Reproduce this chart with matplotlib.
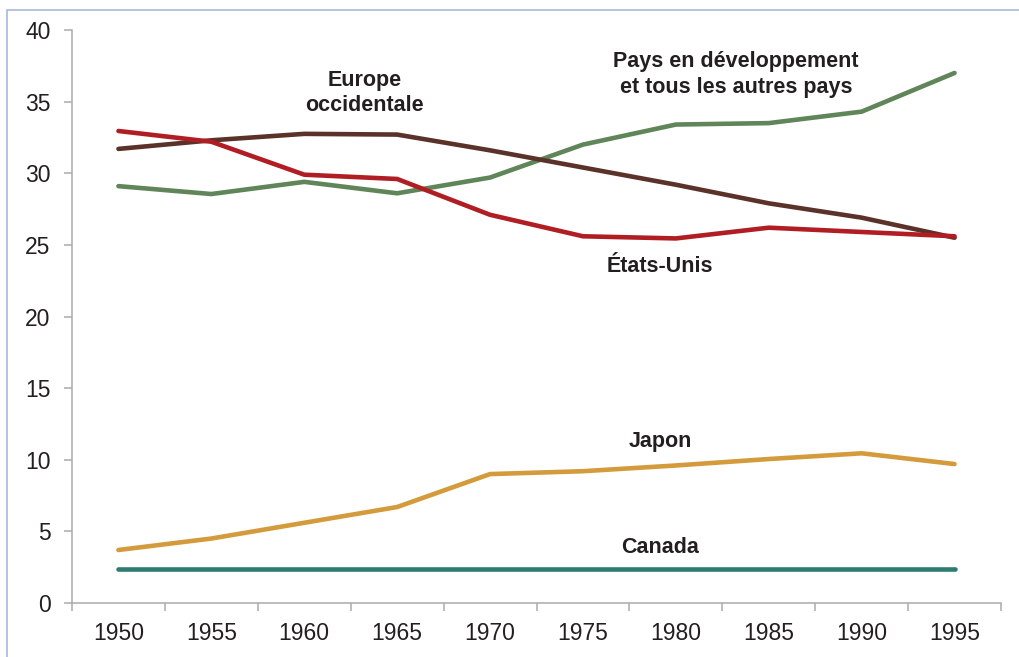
import matplotlib
matplotlib.use("Agg")
import matplotlib.pyplot as plt
from matplotlib.patches import Rectangle

plt.rcParams['font.family'] = ['Liberation Sans', 'DejaVu Sans']

# Data (share in %)
years = ['1950', '1955', '1960', '1965', '1970', '1975', '1980', '1985', '1990', '1995']
europe = [31.7, 32.3, 32.75, 32.7, 31.6, 30.4, 29.2, 27.9, 26.9, 25.5]
etats_unis = [32.95, 32.2, 29.9, 29.6, 27.1, 25.6, 25.45, 26.2, 25.9, 25.6]
developpement = [29.1, 28.55, 29.4, 28.6, 29.7, 32.0, 33.4, 33.5, 34.3, 37.0]
japon = [3.7, 4.5, 5.6, 6.7, 9.0, 9.2, 9.6, 10.05, 10.45, 9.7]
canada = [2.35, 2.35, 2.35, 2.35, 2.35, 2.35, 2.35, 2.35, 2.35, 2.35]

fig = plt.figure(figsize=(10.2, 6.57), dpi=100)
ax = fig.add_axes([72/1020, 1 - 603/657, (1001 - 72)/1020, (603 - 30)/657])

# light blue frame around the chart
fig.patches.append(Rectangle((7/1020, -0.1), 1.2, 1 - 10/657 + 0.1, transform=fig.transFigure,
                             fill=False, edgecolor='#A9B8DC', linewidth=1.2))

x = list(range(len(years)))
lw = 3.3
ax.plot(x, developpement, color='#5F8559', lw=lw, solid_capstyle='round')
ax.plot(x, europe, color='#5A3229', lw=lw, solid_capstyle='round')
ax.plot(x, etats_unis, color='#B01E24', lw=lw, solid_capstyle='round')
ax.plot(x, japon, color='#D49B3C', lw=lw, solid_capstyle='round')
ax.plot(x, canada, color='#2E7B71', lw=lw, solid_capstyle='round')

# Series labels
lab = dict(fontsize=15.5, fontweight='bold', color='#231F20', ha='center', va='center')
ax.text(2.65, 35.6, 'Europe\noccidentale', linespacing=1.3, **lab)
ax.text(6.65, 36.9, 'Pays en développement\net tous les autres pays', linespacing=1.3, **lab)
ax.text(5.83, 23.5, 'États-Unis', **lab)
ax.text(5.83, 11.3, 'Japon', **lab)
ax.text(5.83, 3.9, 'Canada', **lab)

# Axes
ax.set_xlim(-0.5, 9.5)
ax.set_ylim(0, 40)
ax.set_yticks(range(0, 41, 5))
ax.set_xticks([i - 0.5 for i in range(len(years) + 1)])
ax.set_xticklabels([])
ax.set_xticks(x, minor=True)
ax.set_xticklabels(years, minor=True)

for side in ['top', 'right']:
    ax.spines[side].set_visible(False)
for side in ['left', 'bottom']:
    ax.spines[side].set_color('#ABABAB')
    ax.spines[side].set_linewidth(1.1)

ax.tick_params(axis='y', which='major', length=5.5, width=1.1, color='#ABABAB',
               labelsize=16.5, labelcolor='#231F20', pad=10)
ax.tick_params(axis='x', which='major', length=5.5, width=1.1, color='#ABABAB')
ax.tick_params(axis='x', which='minor', length=0, labelsize=16.5, labelcolor='#231F20', pad=14)

fig.savefig('out.png', dpi=100)
